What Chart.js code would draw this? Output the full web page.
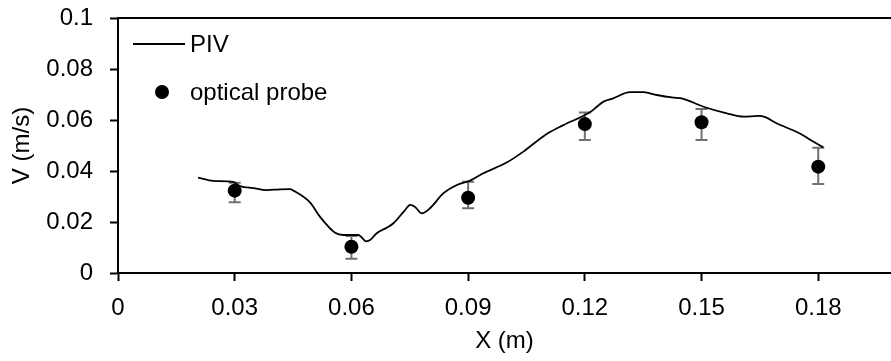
<!DOCTYPE html>
<html><head><meta charset="utf-8">
<script src="https://cdn.jsdelivr.net/npm/chart.js@4/dist/chart.umd.min.js"></script>
<style>html,body{margin:0;padding:0;overflow:hidden;background:#fff}canvas{display:block}</style>
</head><body>
<canvas id="c" width="891" height="361" style="width:891px;height:361px"></canvas>
<script>
const xTicks = [0, 0.03, 0.06, 0.09, 0.12, 0.15, 0.18];
const yTicks = [0, 0.02, 0.04, 0.06, 0.08, 0.1];
const xRange = [0, 0.1987];
const yRange = [0, 0.1];
const pivX = [0.0206,0.0245,0.0296,0.0314,0.0348,0.0382,0.0416,0.0442,0.0451,0.0494,0.0519,0.0558,0.0579,0.0618,0.0626,0.0638,0.0648,0.0665,0.0691,0.0708,0.0738,0.0751,0.0763,0.0781,0.0802,0.0836,0.0871,0.0905,0.0939,0.0999,0.1042,0.1102,0.1145,0.1213,0.1231,0.1248,0.1273,0.1316,0.1351,0.1385,0.1428,0.1449,0.1505,0.1565,0.1608,0.1647,0.1664,0.1693,0.1749,0.1788,0.1813];
const pivY = [0.0374,0.0361,0.0357,0.0341,0.0333,0.0325,0.0328,0.0329,0.0323,0.0276,0.0221,0.0158,0.0149,0.0149,0.0140,0.0124,0.0129,0.0156,0.0178,0.0195,0.0247,0.0267,0.0260,0.0234,0.0254,0.0312,0.0345,0.0362,0.0391,0.0433,0.0476,0.0545,0.0580,0.0630,0.0652,0.0672,0.0685,0.0709,0.0709,0.0698,0.0688,0.0685,0.0652,0.0626,0.0613,0.0616,0.0611,0.0587,0.0550,0.0515,0.0493];
const probeX = [0.03, 0.06, 0.09, 0.12, 0.15, 0.18];
const probeY = [0.0323, 0.0103, 0.0295, 0.0584, 0.0591, 0.0417];
const probeLow = [0.0277, 0.0056, 0.0254, 0.0522, 0.0522, 0.0349];
const probeHigh = [0.0354, 0.0145, 0.0358, 0.0629, 0.0643, 0.0491];
const seriesNames = ['PIV', 'optical probe'];

const FONT = 'Liberation Sans';
const FS = 24;

const errorBars = {
  id: 'errorBars',
  beforeDatasetsDraw(chart) {
    const {ctx, scales:{x, y}} = chart;
    ctx.save();
    ctx.strokeStyle = '#707070';
    ctx.lineWidth = 2;
    probeX.forEach((v, i) => {
      const px = x.getPixelForValue(v);
      const lo = y.getPixelForValue(probeLow[i]);
      const hi = y.getPixelForValue(probeHigh[i]);
      ctx.beginPath();
      ctx.moveTo(px, lo); ctx.lineTo(px, hi);
      ctx.moveTo(px - 6, lo); ctx.lineTo(px + 6, lo);
      ctx.moveTo(px - 6, hi); ctx.lineTo(px + 6, hi);
      ctx.stroke();
    });
    ctx.restore();
  }
};

const frame = {
  id: 'frame',
  afterDraw(chart) {
    const {ctx, chartArea:a} = chart;
    ctx.save();
    ctx.strokeStyle = '#000';
    ctx.lineWidth = 2;
    ctx.beginPath();
    ctx.moveTo(a.left - 1, a.top); ctx.lineTo(a.right + 2, a.top);
    ctx.stroke();
    // legend
    const lx = a.left + 15, ly = a.top + 26;
    ctx.lineWidth = 1.8;
    ctx.beginPath(); ctx.moveTo(lx, ly); ctx.lineTo(lx + 52, ly); ctx.stroke();
    ctx.fillStyle = '#000';
    ctx.font = FS + 'px "' + FONT + '"';
    ctx.textBaseline = 'middle';
    ctx.fillText(seriesNames[0], lx + 57, ly + 1);
    ctx.beginPath(); ctx.arc(lx + 29, ly + 48, 7, 0, Math.PI * 2); ctx.fill();
    ctx.fillText(seriesNames[1], lx + 57, ly + 49);
    ctx.restore();
  }
};

new Chart(document.getElementById('c'), {
  type: 'scatter',
  data: {
    datasets: [
      {
        label: seriesNames[0],
        type: 'line',
        data: pivX.map((v, i) => ({x: v, y: pivY[i]})),
        borderColor: '#000',
        borderWidth: 1.8,
        pointRadius: 0,
        cubicInterpolationMode: 'monotone',
        fill: false
      },
      {
        label: seriesNames[1],
        data: probeX.map((v, i) => ({x: v, y: probeY[i]})),
        backgroundColor: '#000',
        borderColor: '#000',
        borderWidth: 0,
        pointRadius: 7,
        pointHoverRadius: 7
      }
    ]
  },
  options: {
    responsive: false,
    animation: false,
    events: [],
    layout: {autoPadding: false, padding: {top: 18, right: 0, left: 0, bottom: 0}},
    plugins: {legend: {display: false}, tooltip: {enabled: false}},
    scales: {
      x: {
        type: 'linear', min: xRange[0], max: xRange[1],
        afterBuildTicks(s) { s.ticks = xTicks.map(v => ({value: v})); },
        afterFit(s) { s.height = 88; s.paddingLeft = 0; s.paddingRight = 0; },
        grid: {drawOnChartArea: false, drawTicks: true, tickLength: 8, color: '#000', tickWidth: 2},
        border: {display: true, color: '#000', width: 2},
        ticks: {color: '#000', font: {family: FONT, size: FS}, padding: 13, maxRotation: 0,
                callback: v => String(v)},
        title: {display: true, text: 'X (m)', color: '#000', font: {family: FONT, size: FS}, padding: {top: 0, bottom: 5}}
      },
      y: {
        type: 'linear', min: yRange[0], max: yRange[1],
        afterBuildTicks(s) { s.ticks = yTicks.map(v => ({value: v})); },
        afterFit(s) { s.width = 118; s.paddingTop = 0; s.paddingBottom = 0; },
        grid: {drawOnChartArea: false, drawTicks: true, tickLength: 8, color: '#000', tickWidth: 2},
        border: {display: true, color: '#000', width: 2},
        ticks: {color: '#000', font: {family: FONT, size: FS}, padding: 17,
                callback: v => String(v)},
        title: {display: true, text: 'V (m/s)', color: '#000', font: {family: FONT, size: FS}, padding: {top: 8, bottom: 0}}
      }
    }
  },
  plugins: [errorBars, frame]
});
</script>
</body></html>
